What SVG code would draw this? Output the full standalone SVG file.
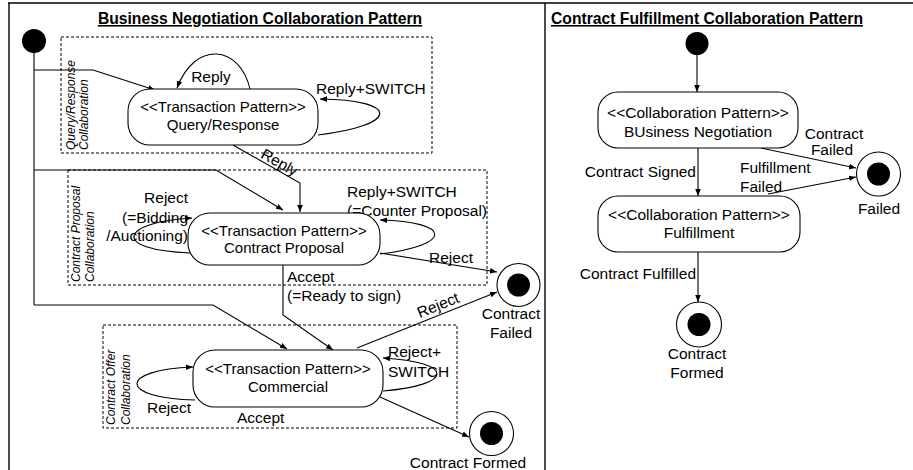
<svg xmlns="http://www.w3.org/2000/svg" width="913" height="470" viewBox="0 0 913 470">
<style>
text{font-family:"Liberation Sans",Arial,sans-serif;font-size:15.5px;fill:#000}
.t{font-weight:bold;text-decoration:underline;font-size:15.7px}
.k{font-size:15px}
.m{text-anchor:middle}
.e{text-anchor:end}
.v{font-size:12px;font-style:italic}
.n{fill:#fff;stroke:#000;stroke-width:1.1}
.c{fill:none;stroke:#000;stroke-width:1.1}
.a{marker-end:url(#ah)}
.d{fill:none;stroke:#000;stroke-width:1;stroke-dasharray:3 2}
.f{fill:#000;stroke:none}
.fr{fill:none;stroke:#000;stroke-width:1.4}
</style>
<defs>
<marker id="ah" viewBox="0 0 10 10" refX="10" refY="5" markerWidth="7" markerHeight="7" orient="auto" markerUnits="userSpaceOnUse">
<path d="M0,1 L10,5 L0,9 z" fill="#000"/>
</marker>
</defs>
<rect width="913" height="470" fill="#fff"/>
<g id="frame">
<path class="fr" d="M8,3 H913 M9,3 V470 M545,3 V470"/>
</g>
<g id="titles">
<text class="t m" x="260" y="24">Business Negotiation Collaboration Pattern</text>
<text class="t m" x="707" y="24">Contract Fulfillment Collaboration Pattern</text>
</g>
<g id="regions">
<rect class="d" x="61" y="37" width="371" height="116"/>
<text class="v" transform="translate(75,150) rotate(-90)">Query/Response</text>
<text class="v" transform="translate(88,150) rotate(-90)">Collaboration</text>
<rect class="d" x="68" y="170" width="419" height="115"/>
<text class="v" transform="translate(80,282) rotate(-90)">Contract  Proposal</text>
<text class="v" transform="translate(94,282) rotate(-90)">Collaboration</text>
<rect class="d" x="103" y="325" width="354" height="103"/>
<text class="v" transform="translate(115,425) rotate(-90)">Contract Offer</text>
<text class="v" transform="translate(130,425) rotate(-90)">Collaboration</text>
</g>
<g id="connectors">
<path class="c" d="M34,53 V305"/>
<path class="c a" d="M34,70 H93 L155,90"/>
<path class="c a" d="M34,170 H216 L283,210"/>
<path class="c a" d="M34,305 H213 L287,349"/>
<path class="c a" d="M250,89 C240,45 195,40 177,88"/>
<path class="c a" d="M318,135 C400,125 400,100 320,99"/>
<path class="c a" d="M233,145 L300,183 V212"/>
<path class="c a" d="M190,253 C110,250 120,222 192,218"/>
<path class="c a" d="M380,254 C453,245 453,222 380,220"/>
<path class="c a" d="M380,253 L497,272"/>
<path class="c a" d="M283,265 V315 L333,350"/>
<path class="c a" d="M357,348 L497,292"/>
<path class="c a" d="M195,400 C118,398 118,370 193,367"/>
<path class="c a" d="M383,391 C455,385 455,362 383,358"/>
<path class="c a" d="M380,397 L469,437"/>
<path class="c a" d="M697,55 V92"/>
<path class="c a" d="M698,148 V196"/>
<path class="c a" d="M761,148 L856,168"/>
<path class="c a" d="M768,194 L856,177"/>
<path class="c a" d="M698,252 V302"/>
</g>
<g id="labels">
<text class="m" x="211" y="82">Reply</text>
<text x="316" y="94">Reply+SWITCH</text>
<text class="m" transform="translate(277,167) rotate(29)">Reply</text>
<text class="e" x="188" y="203">Reject</text>
<text class="e" x="188" y="223">(=Bidding</text>
<text class="e" x="188" y="241">/Auctioning)</text>
<text x="347" y="197">Reply+SWITCH</text>
<text x="347" y="216">(=Counter Proposal)</text>
<text x="429" y="263">Reject</text>
<text x="287" y="282">Accept</text>
<text x="287" y="301">(=Ready to sign)</text>
<text class="m" transform="translate(440,310) rotate(-22)">Reject</text>
<text x="147" y="413">Reject</text>
<text x="237" y="423">Accept</text>
<text x="388" y="357">Reject+</text>
<text x="388" y="377">SWITCH</text>
<text class="e" x="696" y="177">Contract Signed</text>
<text class="m" x="834" y="139">Contract</text>
<text class="m" x="832" y="155">Failed</text>
<text x="740" y="173">Fulfillment</text>
<text x="740" y="192">Failed</text>
<text class="e" x="696" y="279">Contract Fulfilled</text>
</g>
<g id="init-left"><circle class="f" cx="34" cy="41" r="12"/></g>
<g id="node-query-response">
<rect class="n" x="128" y="89" width="190" height="56" rx="22"/>
<text class="m k" x="223" y="112">&lt;&lt;Transaction Pattern&gt;&gt;</text>
<text class="m k" x="223" y="130">Query/Response</text>
</g>
<g id="node-contract-proposal">
<rect class="n" x="188" y="213" width="192" height="52" rx="22"/>
<text class="m k" x="284" y="236">&lt;&lt;Transaction Pattern&gt;&gt;</text>
<text class="m k" x="284" y="253">Contract Proposal</text>
</g>
<g id="node-commercial">
<rect class="n" x="193" y="350" width="190" height="57" rx="22"/>
<text class="m k" x="288" y="374">&lt;&lt;Transaction Pattern&gt;&gt;</text>
<text class="m k" x="288" y="392">Commercial</text>
</g>
<g id="final-contract-failed">
<circle class="n" cx="518.5" cy="285" r="21.5"/>
<circle class="f" cx="518.5" cy="285" r="11.5"/>
<text class="m" x="511" y="319">Contract</text>
<text class="m" x="511" y="338">Failed</text>
</g>
<g id="final-contract-formed-left">
<circle class="n" cx="491.5" cy="433.5" r="22"/>
<circle class="f" cx="491.5" cy="433.5" r="11.5"/>
<text class="m" x="468" y="468">Contract Formed</text>
</g>
<g id="init-right"><circle class="f" cx="697" cy="43.5" r="11.5"/></g>
<g id="node-business-negotiation">
<rect class="n" x="598" y="92" width="200" height="56" rx="20"/>
<text class="m" x="698" y="118">&lt;&lt;Collaboration Pattern&gt;&gt;</text>
<text class="m" x="698" y="137">BUsiness Negotiation</text>
</g>
<g id="node-fulfillment">
<rect class="n" x="598" y="196" width="202" height="56" rx="20"/>
<text class="m" x="699" y="220">&lt;&lt;Collaboration Pattern&gt;&gt;</text>
<text class="m" x="699" y="238">Fulfillment</text>
</g>
<g id="final-failed">
<circle class="n" cx="878.5" cy="174" r="22"/>
<circle class="f" cx="878.5" cy="174" r="11.5"/>
<text class="m" x="879" y="214">Failed</text>
</g>
<g id="final-contract-formed-right">
<circle class="n" cx="699" cy="324.5" r="22.5"/>
<circle class="f" cx="699" cy="324.5" r="11.5"/>
<text class="m" x="697" y="359">Contract</text>
<text class="m" x="697" y="378">Formed</text>
</g>
</svg>
